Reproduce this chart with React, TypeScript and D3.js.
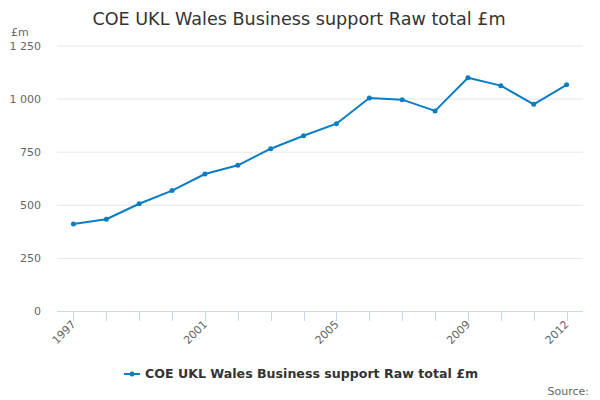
import React, { useEffect, useRef } from 'react';
import * as d3 from 'd3';

const years = ['1997', '1998', '1999', '2000', '2001', '2002', '2003', '2004', '2005', '2006', '2007', '2008', '2009', '2010', '2011', '2012'];
const values = [410, 432, 505, 567, 645, 686, 764, 825, 882, 1003, 995, 942, 1098, 1061, 973, 1065];
const labelledYears = ['1997', '2001', '2005', '2009', '2012'];
const yTicks = [0, 250, 500, 750, 1000, 1250];
const seriesName = 'COE UKL Wales Business support Raw total £m';

const App: React.FC = () => {
  const svgRef = useRef<SVGSVGElement>(null);
  const width = 600;
  const height = 400;

  useEffect(() => {
    if (!svgRef.current) return;
    const svg = d3.select(svgRef.current);
    svg.selectAll('*').remove();

    const font = '"DejaVu Sans", sans-serif';
    const colors = { line: '#0a7dc4', grid: '#e6e6e6', axis: '#ccd6eb', label: '#666666', title: '#333333' };
    const left = 57, right = 583, top = 45.5, bottom = 311;

    const x = d3.scalePoint<string>().domain(years).range([left, right]).padding(0.5);
    const y = d3.scaleLinear().domain([0, 1250]).range([bottom, top]);
    const fmt = (v: number) => d3.format(',')(v).replace(/,/g, ' ');

    svg.append('rect').attr('width', width).attr('height', height).attr('fill', '#ffffff');

    svg.append('text').attr('x', 299).attr('y', 25).attr('text-anchor', 'middle')
      .attr('fill', colors.title).style('font-family', font).style('font-size', '17.6px').text(seriesName);

    // grid
    svg.append('g').selectAll('line').data(yTicks.filter(t => t > 0)).enter().append('line')
      .attr('x1', left).attr('x2', right).attr('y1', d => y(d) + 0.5).attr('y2', d => y(d) + 0.5)
      .attr('stroke', colors.grid).attr('stroke-width', 1);

    // y labels
    svg.append('g').selectAll('text').data(yTicks).enter().append('text')
      .attr('x', 41).attr('y', d => y(d) + 4).attr('text-anchor', 'end')
      .attr('fill', colors.label).style('font-family', font).style('font-size', '11px').text(d => fmt(d));
    svg.append('text').attr('x', 11).attr('y', 36).attr('fill', colors.label)
      .style('font-family', font).style('font-size', '11px').text('£m');

    // x axis
    svg.append('line').attr('x1', left).attr('x2', right).attr('y1', bottom + 0.5).attr('y2', bottom + 0.5)
      .attr('stroke', colors.axis).attr('stroke-width', 1);
    svg.append('g').selectAll('line').data(years).enter().append('line')
      .attr('x1', d => Math.round(x(d)!) + 0.5).attr('x2', d => Math.round(x(d)!) + 0.5)
      .attr('y1', bottom).attr('y2', bottom + 10).attr('stroke', colors.axis);
    svg.append('g').selectAll('text').data(labelledYears).enter().append('text')
      .attr('transform', d => `translate(${x(d)! + 3},${bottom + 14}) rotate(-45)`)
      .attr('text-anchor', 'end').attr('fill', colors.label)
      .style('font-family', font).style('font-size', '11px').text(d => d);

    // series
    const line = d3.line<number>().x((_, i) => x(years[i])!).y(d => y(d));
    svg.append('path').datum(values).attr('fill', 'none').attr('stroke', colors.line)
      .attr('stroke-width', 2).attr('stroke-linejoin', 'round').attr('d', line);
    svg.append('g').selectAll('circle').data(values).enter().append('circle')
      .attr('cx', (_, i) => x(years[i])!).attr('cy', d => y(d)).attr('r', 2.5).attr('fill', colors.line);

    // legend
    const lg = svg.append('g');
    lg.append('line').attr('x1', 124).attr('x2', 140).attr('y1', 374).attr('y2', 374)
      .attr('stroke', colors.line).attr('stroke-width', 2);
    lg.append('circle').attr('cx', 132).attr('cy', 374).attr('r', 2.5).attr('fill', colors.line);
    lg.append('text').attr('x', 145).attr('y', 378).attr('fill', colors.title)
      .style('font-family', font).style('font-size', '12.6px').style('font-weight', 'bold').text(seriesName);

    svg.append('text').attr('x', 589).attr('y', 395).attr('text-anchor', 'end').attr('fill', colors.label)
      .style('font-family', font).style('font-size', '11px').text('Source:');
  }, []);

  return (
    <svg ref={svgRef} width={width} height={height} viewBox={`0 0 ${width} ${height}`}
      style={{ position: 'absolute', left: 0, top: 0 }} />
  );
};

export default App;
